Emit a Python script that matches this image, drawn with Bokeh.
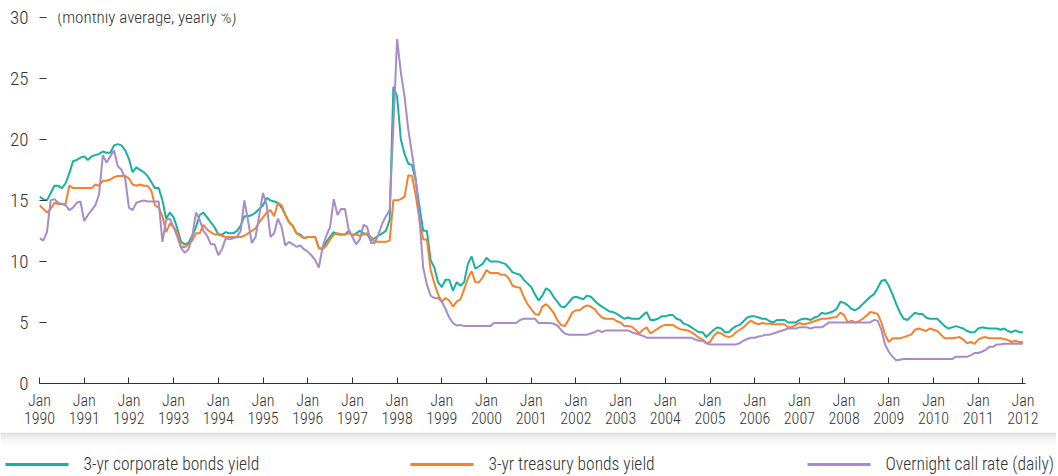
from bokeh.plotting import figure
from bokeh.models import Range1d, FixedTicker, Label
from bokeh.core.properties import value
from bokeh.embed import file_html
from bokeh.resources import INLINE

FONT = "Roboto Condensed Light, Roboto Condensed, DejaVu Sans Condensed"
TEXT = "#333333"

start_year = 1990
years = list(range(1990, 2013))
tick_labels = ["Jan\n%d" % y for y in years]
y_ticks = [0, 5, 10, 15, 20, 25, 30]

labels = ["3-yr corporate bonds yield", "3-yr treasury bonds yield", "Overnight call rate (daily)"]
colors = ["#17b1a0", "#f5822a", "#a88bc8"]

corporate = [
    15.3, 15.1, 15.0, 15.6, 16.2, 16.2, 16.0, 16.4, 17.2, 18.2, 18.3, 18.5,  # 1990
    18.6, 18.3, 18.6, 18.7, 18.8, 19.0, 18.9, 18.9, 19.5, 19.6, 19.5, 19.1,  # 1991
    18.4, 17.3, 17.7, 17.5, 17.3, 17.0, 16.5, 16.0, 16.0, 15.0, 13.5, 14.0,  # 1992
    13.6, 12.7, 11.6, 11.4, 11.5, 12.1, 12.8, 13.8, 14.0, 13.6, 13.2, 12.8,  # 1993
    12.2, 12.2, 12.4, 12.3, 12.3, 12.5, 12.9, 13.7, 13.7, 13.8, 14.0, 14.3,  # 1994
    14.6, 15.2, 15.0, 14.9, 14.8, 14.4, 13.8, 13.2, 12.9, 12.3, 12.2, 11.9,  # 1995
    12.0, 12.0, 12.0, 11.1, 11.0, 11.6, 12.0, 12.4, 12.2, 12.2, 12.2, 12.5,  # 1996
    12.1, 12.3, 12.5, 12.3, 12.2, 11.7, 11.9, 12.1, 12.3, 12.5, 13.4, 24.3,  # 1997
    23.5, 20.0, 18.8, 18.0, 17.9, 16.6, 14.5, 12.5, 12.5, 10.1, 9.5, 8.3,    # 1998
    7.9, 8.5, 8.5, 7.6, 8.3, 8.0, 8.3, 9.8, 10.4, 9.4, 9.6, 9.8,             # 1999
    10.3, 10.0, 10.0, 10.0, 9.9, 9.8, 9.5, 9.1, 9.0, 8.9, 8.5, 8.2,          # 2000
    7.9, 7.3, 6.8, 7.2, 7.8, 7.6, 7.1, 6.7, 6.3, 6.25, 6.6, 7.0,             # 2001
    7.1, 7.0, 6.9, 7.2, 7.1, 6.8, 6.5, 6.3, 6.1, 5.9, 5.85, 5.7,             # 2002
    5.5, 5.3, 5.4, 5.3, 5.3, 5.3, 5.6, 5.85, 5.2, 5.2, 5.3, 5.5,             # 2003
    5.5, 5.6, 5.6, 5.3, 5.2, 4.9, 4.8, 4.6, 4.4, 4.2, 4.2, 3.8,              # 2004
    4.1, 4.4, 4.6, 4.5, 4.2, 4.2, 4.5, 4.7, 4.8, 5.1, 5.4, 5.5,              # 2005
    5.5, 5.4, 5.3, 5.3, 5.1, 5.0, 5.2, 5.2, 5.2, 5.0, 5.0, 5.0,              # 2006
    5.2, 5.3, 5.3, 5.2, 5.4, 5.5, 5.8, 5.7, 5.8, 5.9, 6.1, 6.7,              # 2007
    6.6, 6.4, 6.1, 6.0, 6.2, 6.5, 6.8, 7.1, 7.3, 7.8, 8.4, 8.5,              # 2008
    8.0, 7.3, 6.5, 5.8, 5.3, 5.2, 5.5, 5.8, 5.7, 5.7, 5.4, 5.3,              # 2009
    5.3, 5.3, 5.0, 4.7, 4.5, 4.6, 4.7, 4.6, 4.5, 4.3, 4.2, 4.2,              # 2010
    4.5, 4.6, 4.55, 4.5, 4.5, 4.5, 4.4, 4.5, 4.3, 4.2, 4.35, 4.2,            # 2011
    4.2,                                                                     # 2012
]

treasury = [
    14.6, 14.3, 14.0, 14.3, 14.8, 14.7, 14.7, 14.7, 16.2, 16.0, 16.0, 16.0,  # 1990
    16.0, 16.0, 16.0, 16.3, 16.2, 16.6, 16.6, 16.7, 16.9, 17.0, 17.0, 17.0,  # 1991
    16.8, 16.3, 16.2, 16.3, 16.2, 16.2, 15.8, 14.6, 14.4, 13.7, 12.4, 13.1,  # 1992
    12.8, 12.4, 11.2, 11.15, 11.4, 11.7, 12.3, 12.3, 13.0, 12.6, 12.4, 12.2, # 1993
    12.2, 12.1, 12.0, 12.0, 12.0, 12.0, 12.0, 12.1, 12.3, 12.5, 12.7, 13.2,  # 1994
    13.6, 14.0, 14.2, 13.7, 14.8, 14.6, 13.8, 13.2, 12.9, 12.3, 12.1, 11.9,  # 1995
    12.0, 12.0, 12.0, 11.1, 11.0, 11.3, 11.8, 12.2, 12.3, 12.2, 12.2, 12.3,  # 1996
    12.2, 12.2, 12.1, 12.2, 12.3, 12.0, 11.6, 11.6, 11.6, 11.6, 11.7, 15.0,  # 1997
    15.0, 15.1, 15.3, 17.05, 17.0, 15.4, 13.4, 11.8, 11.8, 9.3, 8.2, 7.3,    # 1998
    6.7, 7.0, 6.8, 6.3, 6.7, 6.9, 7.7, 8.6, 9.2, 8.3, 8.3, 8.7,              # 1999
    9.3, 9.05, 9.05, 9.05, 8.9, 8.9, 8.6, 8.0, 7.9, 7.85, 7.1, 6.5,          # 2000
    6.1, 5.7, 5.6, 6.3, 6.5, 6.2, 5.8, 5.2, 4.8, 4.7, 5.2, 5.8,              # 2001
    6.0, 6.0, 6.25, 6.4, 6.3, 6.1, 5.7, 5.4, 5.3, 5.3, 5.3, 5.1,             # 2002
    5.0, 4.7, 4.7, 4.65, 4.4, 4.1, 4.4, 4.6, 4.1, 4.3, 4.5, 4.7,             # 2003
    4.8, 4.8, 4.8, 4.6, 4.45, 4.4, 4.35, 4.2, 4.0, 3.75, 3.6, 3.3,           # 2004
    3.4, 3.9, 4.2, 4.1, 3.9, 3.8, 3.9, 4.2, 4.4, 4.6, 4.9, 5.15,             # 2005
    4.95, 4.85, 4.95, 4.9, 4.9, 4.85, 4.85, 4.85, 4.85, 4.6, 4.6, 4.8,       # 2006
    4.95, 4.85, 4.9, 5.0, 5.1, 5.2, 5.3, 5.3, 5.35, 5.4, 5.45, 5.8,          # 2007
    5.6, 5.0, 5.15, 5.0, 5.1, 5.3, 5.55, 5.85, 5.8, 5.7, 5.0, 4.0,           # 2008
    3.4, 3.7, 3.7, 3.7, 3.8, 3.9, 4.0, 4.4, 4.5, 4.4, 4.3, 4.5,              # 2009
    4.4, 4.3, 4.0, 3.7, 3.7, 3.7, 3.75, 3.8, 3.6, 3.3, 3.4, 3.25,            # 2010
    3.6, 3.75, 3.8, 3.7, 3.7, 3.7, 3.7, 3.65, 3.55, 3.4, 3.5, 3.4,           # 2011
    3.4,                                                                     # 2012
]

call_rate = [
    11.9, 11.7, 12.4, 15.0, 15.1, 14.8, 14.7, 14.6, 14.2, 14.4, 14.8, 14.9,  # 1990
    13.3, 13.8, 14.2, 14.6, 15.5, 18.7, 18.1, 18.6, 19.1, 17.8, 17.5, 16.8,  # 1991
    14.4, 14.2, 14.8, 14.9, 15.0, 14.9, 14.9, 14.9, 14.9, 11.6, 13.4, 13.5,  # 1992
    12.8, 12.0, 11.1, 10.7, 11.0, 12.0, 14.0, 13.4, 12.5, 12.1, 11.4, 11.4,  # 1993
    10.5, 11.0, 11.9, 11.8, 11.9, 12.0, 12.5, 15.0, 13.3, 11.5, 12.0, 13.8,  # 1994
    15.6, 14.6, 12.0, 12.3, 13.5, 12.8, 11.3, 11.6, 11.4, 11.2, 11.3, 11.0,  # 1995
    10.8, 10.5, 10.1, 9.5, 11.2, 12.1, 12.8, 15.1, 13.8, 14.3, 14.3, 12.6,   # 1996
    12.0, 11.4, 11.8, 13.0, 12.8, 11.5, 11.5, 12.2, 13.1, 13.7, 14.2, 21.0,  # 1997
    28.2, 25.5, 23.5, 20.8, 18.8, 16.8, 13.5, 9.5, 8.1, 7.2, 7.0, 7.0,       # 1998
    6.7, 6.1, 5.4, 4.95, 4.75, 4.8, 4.7, 4.7, 4.7, 4.7, 4.7, 4.7,            # 1999
    4.7, 4.7, 4.95, 4.95, 4.95, 4.95, 4.95, 4.95, 4.95, 5.2, 5.3, 5.3,       # 2000
    5.3, 5.3, 4.95, 4.95, 4.95, 4.95, 4.9, 4.75, 4.4, 4.1, 4.0, 4.0,         # 2001
    4.0, 4.0, 4.0, 4.0, 4.1, 4.2, 4.35, 4.2, 4.35, 4.35, 4.35, 4.35,         # 2002
    4.35, 4.35, 4.35, 4.2, 4.1, 4.0, 3.9, 3.75, 3.75, 3.75, 3.75, 3.75,      # 2003
    3.75, 3.75, 3.75, 3.75, 3.75, 3.75, 3.75, 3.75, 3.6, 3.5, 3.5, 3.3,      # 2004
    3.2, 3.2, 3.2, 3.2, 3.2, 3.2, 3.2, 3.2, 3.3, 3.5, 3.65, 3.75,            # 2005
    3.75, 3.85, 3.9, 4.0, 4.0, 4.1, 4.2, 4.3, 4.4, 4.5, 4.5, 4.5,            # 2006
    4.6, 4.6, 4.6, 4.5, 4.6, 4.6, 4.6, 4.8, 5.0, 5.0, 5.0, 5.0,              # 2007
    5.0, 5.0, 5.0, 5.0, 5.0, 5.0, 5.0, 5.0, 5.2, 5.15, 4.4, 3.2,             # 2008
    2.6, 2.2, 1.9, 1.95, 2.0, 2.0, 2.0, 2.0, 2.0, 2.0, 2.0, 2.0,             # 2009
    2.0, 2.0, 2.0, 2.0, 2.0, 2.0, 2.2, 2.2, 2.2, 2.2, 2.3, 2.5,              # 2010
    2.5, 2.6, 2.75, 3.0, 3.0, 3.2, 3.2, 3.25, 3.25, 3.25, 3.25, 3.25,        # 2011
    3.25,                                                                    # 2012
]

months = [start_year + i / 12.0 for i in range(len(corporate))]

W = 1056
p = figure(width=W, height=432, output_backend="svg", toolbar_location=None,
           x_range=Range1d(1990, 1990 + 986 / 44.7), y_range=Range1d(0, 30.3),
           min_border_left=39, min_border_right=31, min_border_top=13, min_border_bottom=49,
           background_fill_color="white", border_fill_color="white")
p.outline_line_color = None
p.grid.grid_line_color = None

# x axis
xa = p.xaxis[0]
xa.ticker = FixedTicker(ticks=years)
xa.major_label_overrides = {y: lab for y, lab in zip(years, tick_labels)}
xa.axis_line_color = TEXT
xa.axis_line_width = 1
xa.major_tick_in = 6
xa.major_tick_out = 0
xa.major_tick_line_color = TEXT
xa.minor_tick_line_color = None
xa.major_label_text_font = FONT
xa.major_label_text_font_size = "16px"
xa.major_label_text_line_height = 0.95
xa.major_label_text_color = TEXT
xa.major_label_standoff = 7

# y axis
ya = p.yaxis[0]
ya.ticker = FixedTicker(ticks=y_ticks)
ya.axis_line_color = None
ya.major_tick_in = 7
ya.major_tick_out = 0
ya.major_tick_line_color = TEXT
ya.minor_tick_line_color = None
ya.major_label_text_font = FONT
ya.major_label_text_font_size = "19px"
ya.major_label_text_color = TEXT
ya.major_label_standoff = 11

for series, c in zip([corporate, treasury, call_rate], colors):
    p.line(months, series, line_color=c, line_width=2)

p.add_layout(Label(x=1990.396, y=30, text="(monthly average, yearly %)",
                   text_font=FONT, text_font_size="17px", text_color=TEXT,
                   text_baseline="middle", text_align="left"))

# legend strip (pixel coordinates) with the card's shadow band, as a separate root
H2 = 42
q = figure(width=W, height=H2, output_backend="svg", toolbar_location=None,
           x_range=Range1d(0, W), y_range=Range1d(H2, 0),
           x_axis_type=None, y_axis_type=None, min_border=0,
           background_fill_color="white", border_fill_color="white")
q.outline_line_color = None
q.grid.grid_line_color = None

shade = ["#d4d4d4", "#d9d9d9", "#dedede", "#e3e3e3", "#e7e7e7", "#ebebeb", "#eeeeee",
         "#f1f1f1", "#f4f4f4", "#f6f6f6", "#f8f8f8", "#fafafa", "#fcfcfc", "#fdfdfd"]
n = len(shade)
q.quad(left=[0] * n, right=[W] * n, top=list(range(n)), bottom=[i + 1 for i in range(n)],
       fill_color=shade, line_color=None)

legend_x = [5, 410, 807]
legend_y = 32
q.segment(x0=legend_x, x1=[x + 63 for x in legend_x], y0=[legend_y] * 3, y1=[legend_y] * 3,
          line_color=colors, line_width=3)
q.text(x=[x + 78 for x in legend_x], y=[legend_y - 1] * 3, text=labels,
       text_font=value(FONT), text_font_size="17.5px", text_color=TEXT,
       text_baseline="middle", text_align="left")

open("out.html", "w").write(file_html([p, q], INLINE))
